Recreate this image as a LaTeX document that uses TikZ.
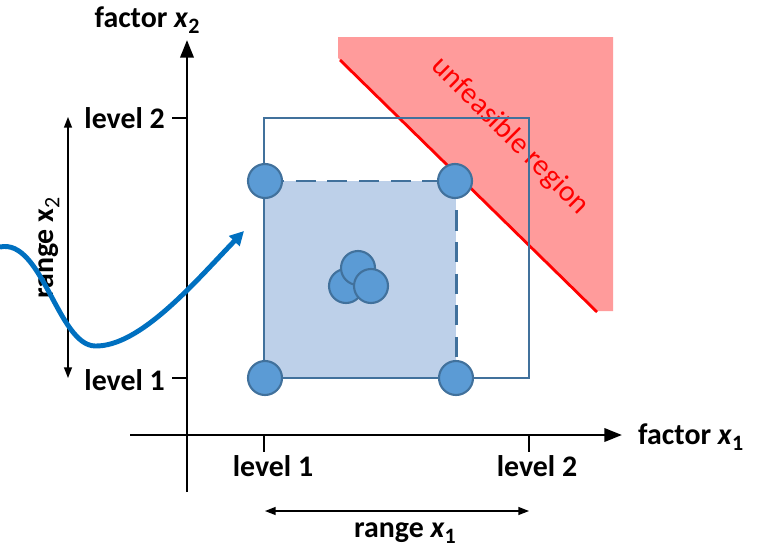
\documentclass[tikz,border=0pt]{standalone}
\usepackage{fontspec}
\setmainfont{Carlito}
\usetikzlibrary{arrows.meta}
\definecolor{ptfill}{HTML}{5B9BD5}
\definecolor{ptline}{HTML}{41719C}
\definecolor{boxfill}{HTML}{BDD0E9}
\definecolor{badfill}{HTML}{FF9B9B}
\definecolor{pathblue}{HTML}{0070C0}
\newcommand\fsub[1]{\raisebox{-0.4ex}{\fontsize{12.5}{13}\selectfont #1}}

\begin{document}
\begin{tikzpicture}[x=0.02cm, y=-0.02cm,
  every node/.style={font=\fontsize{17}{20}\selectfont\bfseries},
  pt/.style={circle, draw=ptline, fill=ptfill, line width=1.2pt, minimum size=0.68cm, inner sep=0pt},
  axis/.style={line width=1.6pt, -{Triangle[length=10pt,width=7.5pt]}},
  span/.style={line width=0.7pt, {Triangle[length=6pt,width=4.5pt]}-{Triangle[length=6pt,width=4.5pt]}}]
  \useasboundingbox (0,0) rectangle (777,551);

  % unfeasible region
  \fill[badfill] (338,37) -- (613,37) -- (613,311) -- (597,311) -- (338,58) -- cycle;
  \draw[red, line width=1.6pt] (340,60) -- (597,312);
  \node (bad) [red, font=\fontsize{17}{20}\selectfont, rotate=-45] at (510,136) {unfeasible region};

  % axes
  \coordinate (y0) at (187,492);
  \coordinate (y1) at (187,40);
  \coordinate (x0) at (130,435);
  \coordinate (x1) at (622,435);
  \draw[axis] (y0) -- (y1);
  \draw[axis] (x0) -- (x1);
  \node (fx2) at (147,20) {factor \textit{x}\fsub{2}};
  \node (fx1) [anchor=west] at (632,437) {factor \textit{x}\fsub{1}};

  % ticks and levels
  \draw[line width=1.4pt] (172,118) -- (187,118);
  \draw[line width=1.4pt] (172,378) -- (187,378);
  \draw[line width=1.4pt] (264,435) -- (264,452);
  \draw[line width=1.4pt] (529,435) -- (529,452);
  \node (l2y) [anchor=east] at (171,118) {level 2};
  \node (l1y) [anchor=east] at (171,380) {level 1};
  \node (l1x) at (273,466) {level 1};
  \node (l2x) at (537,466) {level 2};

  % ranges
  \coordinate (r1a) at (265,511);
  \coordinate (r1b) at (529,511);
  \coordinate (r2a) at (68,117);
  \coordinate (r2b) at (68,378);
  \draw[span] (r1a) -- (r1b);
  \draw[span] (r2a) -- (r2b);
  \node (rx1) at (405,533) {range \textit{x}\fsub{1}};
  \node (rx2) [rotate=90] at (49,248) {range x\fsub{\mdseries 2}};

  % design space
  \fill[boxfill] (264,181) rectangle (456,378);
  \draw[ptline, line width=1.4pt] (264,118) rectangle (529,378);
  \draw[ptline, line width=1.7pt, dash pattern=on 11.5pt off 6.5pt] (264,181) -- (456,181) -- (456,378);

  % curve
  \coordinate (c0) at (0,247);
  \coordinate (cm) at (95,346);
  \coordinate (c1) at (244,231);
  \draw[pathblue, line width=2.8pt, -{Triangle[length=8pt,width=8pt]}]
    (c0) .. controls (42,238) and (58,345) .. (cm)
         .. controls (140,347) and (195,282) .. (c1);

  % design points
  \node (p1) [pt] at (265,181) {};
  \node (p2) [pt] at (455,181) {};
  \node (p3) [pt] at (265,378) {};
  \node (p4) [pt] at (456,378) {};
  \node (m1) [pt] at (346,286) {};
  \node (m2) [pt] at (358,268) {};
  \node (m3) [pt] at (371,286) {};
\end{tikzpicture}
\end{document}
